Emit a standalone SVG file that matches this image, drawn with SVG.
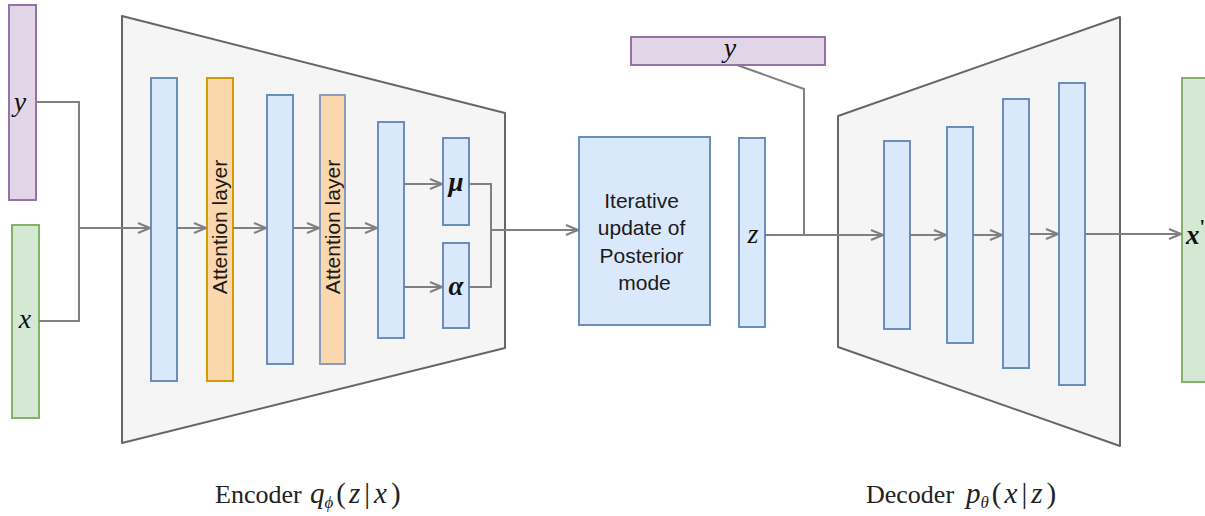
<svg xmlns="http://www.w3.org/2000/svg" width="1205" height="516" viewBox="0 0 1205 516">
  <style>
    .stage { fill: #f5f5f5; stroke: #666666; stroke-width: 2; stroke-linejoin: round; }
    .layer { fill: #dae8fc; stroke: #6c8ebf; stroke-width: 2; }
    .attn { fill: #fad7ac; stroke: #d79b00; stroke-width: 2; }
    .attn2 { fill: #fad7ac; stroke: #8a9cbc; stroke-width: 2; }
    .cond { fill: #e1d5e7; stroke: #9673a6; stroke-width: 2; }
    .data { fill: #d5e8d4; stroke: #82b366; stroke-width: 2; }
    .wire { fill: none; stroke: #808080; stroke-width: 2; }
    .arrow { fill: none; stroke: #808080; stroke-width: 2; marker-end: url(#open); }
    .sans { font-family: "Liberation Sans", Arial, sans-serif; font-size: 21px; fill: #1a1a1a; }
    .math { font-family: "Liberation Serif", "DejaVu Serif", serif; font-style: italic; font-size: 28px; fill: #111111; }
    .mathb { font-family: "Liberation Serif", "DejaVu Serif", serif; font-style: italic; font-weight: bold; font-size: 27px; fill: #111111; }
    .caption { font-family: "Liberation Serif", "DejaVu Serif", serif; font-size: 26px; fill: #222222; }
    .cm { font-family: "Liberation Serif", "DejaVu Serif", serif; font-size: 29px; fill: #222222; }
    .it { font-style: italic; }
    .sub { font-style: italic; font-size: 17px; }
  </style>
  <defs>
    <marker id="open" viewBox="0 0 14 12" refX="13" refY="6" markerWidth="14" markerHeight="12" markerUnits="userSpaceOnUse" orient="auto">
      <path d="M1,1 L13,6 L1,11" fill="none" stroke="#808080" stroke-width="2"/>
    </marker>
  </defs>

  <!-- encoder and decoder housings -->
  <g id="encoder-stage">
    <polygon class="stage" points="122,16 505,113 505,348 122,443"/>
  </g>
  <g id="decoder-stage">
    <polygon class="stage" points="838,116 1120,17 1120,446 838,347"/>
  </g>

  <!-- inputs -->
  <g id="input-y">
    <rect class="cond" x="9" y="5" width="27" height="195"/>
    <text class="math" x="20" y="111" text-anchor="middle">y</text>
  </g>
  <g id="input-x">
    <rect class="data" x="12" y="225" width="27" height="193"/>
    <text class="math" x="25" y="328" text-anchor="middle">x</text>
  </g>

  <!-- encoder layers -->
  <g id="enc-1"><rect class="layer" x="151" y="78" width="26" height="303"/></g>
  <g id="enc-attn-1">
    <rect class="attn" x="207" y="78" width="26" height="303"/>
    <text class="sans" transform="translate(227,227) rotate(-90)" text-anchor="middle">Attention layer</text>
  </g>
  <g id="enc-2"><rect class="layer" x="267" y="95" width="26" height="269"/></g>
  <g id="enc-attn-2">
    <rect class="attn2" x="320" y="95" width="25" height="269"/>
    <text class="sans" transform="translate(340,227) rotate(-90)" text-anchor="middle">Attention layer</text>
  </g>
  <g id="enc-3"><rect class="layer" x="378" y="122" width="26" height="216"/></g>
  <g id="mu">
    <rect class="layer" x="443" y="138" width="26" height="87"/>
    <text class="mathb" x="456" y="191" text-anchor="middle">μ</text>
  </g>
  <g id="alpha">
    <rect class="layer" x="443" y="243" width="26" height="85"/>
    <text class="mathb" x="456" y="295" text-anchor="middle">α</text>
  </g>

  <!-- latent refinement -->
  <g id="posterior-update">
    <rect class="layer" x="579" y="137" width="131" height="188"/>
    <text class="sans" text-anchor="middle">
      <tspan x="644.5" y="208">Iterative</tspan>
      <tspan x="644.5" y="235">update of</tspan>
      <tspan x="644.5" y="263">Posterior</tspan>
      <tspan x="644.5" y="290">mode</tspan>
    </text>
  </g>
  <g id="latent-z">
    <rect class="layer" x="739" y="138" width="26" height="189"/>
    <text class="math" x="753" y="243" text-anchor="middle">z</text>
  </g>
  <g id="cond-y">
    <rect class="cond" x="631" y="37" width="194" height="28"/>
    <text class="math" x="730" y="57" text-anchor="middle">y</text>
  </g>

  <!-- decoder layers -->
  <g id="dec-1"><rect class="layer" x="884" y="141" width="26" height="188"/></g>
  <g id="dec-2"><rect class="layer" x="947" y="127" width="26" height="216"/></g>
  <g id="dec-3"><rect class="layer" x="1003" y="99" width="26" height="269"/></g>
  <g id="dec-4"><rect class="layer" x="1059" y="83" width="26" height="302"/></g>

  <!-- reconstruction -->
  <g id="output-x">
    <rect class="data" x="1182" y="78" width="30" height="304"/>
    <text class="mathb" x="1186" y="244">x<tspan font-style="normal" font-size="20" dy="-10">'</tspan></text>
  </g>

  <!-- connectors -->
  <g id="connectors">
    <polyline class="wire" points="36,102 79,102 79,321 39,321"/>
    <line class="arrow" x1="79" y1="228" x2="150" y2="228"/>
    <line class="arrow" x1="177" y1="228" x2="206" y2="228"/>
    <line class="arrow" x1="233" y1="228" x2="266" y2="228"/>
    <line class="arrow" x1="293" y1="228" x2="319" y2="228"/>
    <line class="arrow" x1="345" y1="228" x2="377" y2="228"/>
    <line class="arrow" x1="404" y1="184" x2="442" y2="184"/>
    <line class="arrow" x1="404" y1="287" x2="442" y2="287"/>
    <polyline class="wire" points="469,184 491,184 491,287 469,287"/>
    <line class="arrow" x1="491" y1="230" x2="578" y2="230"/>
    <polyline class="wire" points="737,65 804,89 804,235"/>
    <line class="arrow" x1="765" y1="235" x2="883" y2="235"/>
    <line class="arrow" x1="910" y1="235" x2="946" y2="235"/>
    <line class="arrow" x1="973" y1="235" x2="1002" y2="235"/>
    <line class="arrow" x1="1029" y1="234" x2="1058" y2="234"/>
    <line class="arrow" x1="1085" y1="234" x2="1181" y2="234"/>
  </g>

  <!-- captions -->
  <g id="encoder-caption">
    <text class="caption" x="215" y="503">Encoder</text>
    <text class="cm" x="310" y="503"><tspan class="it">q</tspan><tspan class="sub" dy="5">ϕ</tspan><tspan dx="3" dy="-5">(</tspan><tspan class="it" dx="3">z</tspan><tspan dx="4">|</tspan><tspan class="it" dx="4">x</tspan><tspan dx="4">)</tspan></text>
  </g>
  <g id="decoder-caption">
    <text class="caption" x="866" y="503">Decoder</text>
    <text class="cm" x="966" y="503"><tspan class="it">p</tspan><tspan class="sub" dy="5">θ</tspan><tspan dx="3" dy="-5">(</tspan><tspan class="it" dx="3">x</tspan><tspan dx="4">|</tspan><tspan class="it" dx="4">z</tspan><tspan dx="4">)</tspan></text>
  </g>
</svg>
